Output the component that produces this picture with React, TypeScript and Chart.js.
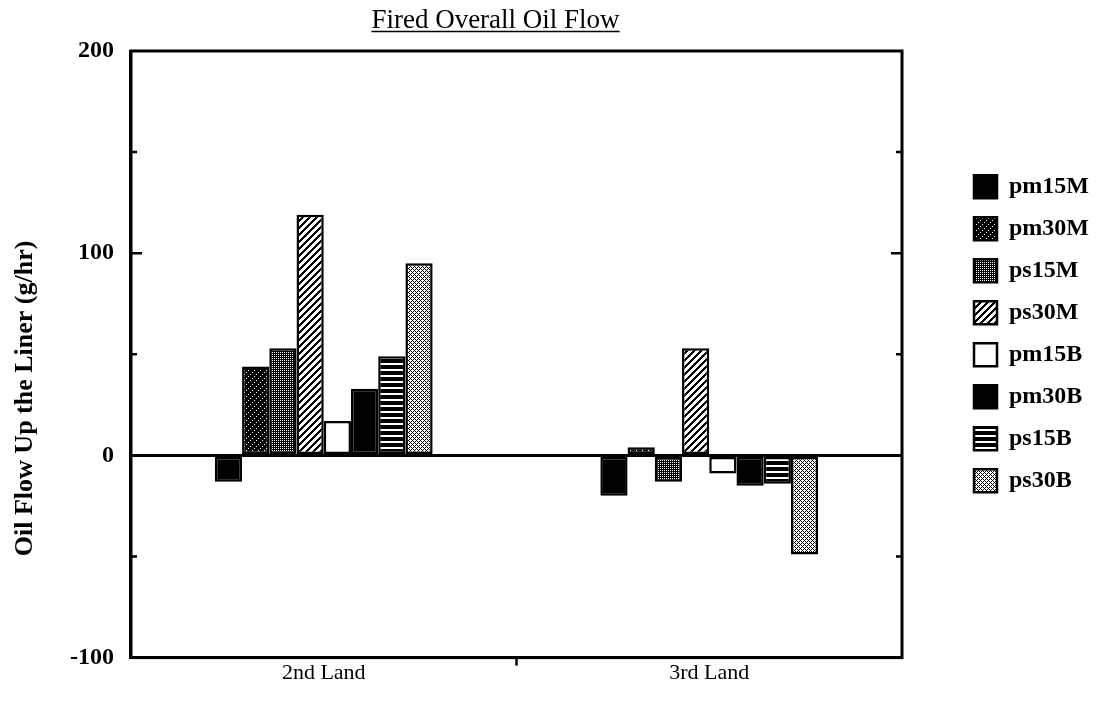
import React, { useEffect, useRef } from "react";
import { Chart, registerables } from "chart.js";

Chart.register(...registerables);

const FONT = "'Liberation Serif', 'Times New Roman', serif";

const categories = ["2nd Land", "3rd Land"];
const seriesNames = ["pm15M", "pm30M", "ps15M", "ps30M", "pm15B", "pm30B", "ps15B", "ps30B"];
const pm15M = [-13, -20];
const pm30M = [44, 4];
const ps15M = [53, -13];
const ps30M = [119, 53];
const pm15B = [17, -9];
const pm30B = [33, -15];
const ps15B = [49, -14];
const ps30B = [95, -49];
const yTickValues = [-100, 0, 100, 200];
const chartTitle = "Fired Overall Oil Flow";
const yTitle = "Oil Flow Up the Liner (g/hr)";

type PixelFn = (x: number, y: number) => boolean;

function makePattern(size: number, isBlack: PixelFn): CanvasPattern | string {
  const c = document.createElement("canvas");
  c.width = size;
  c.height = size;
  const g = c.getContext("2d");
  if (!g) return "#888";
  const img = g.createImageData(size, size);
  for (let y = 0; y < size; y++) {
    for (let x = 0; x < size; x++) {
      const i = (y * size + x) * 4;
      const v = isBlack(x, y) ? 0 : 255;
      img.data[i] = v;
      img.data[i + 1] = v;
      img.data[i + 2] = v;
      img.data[i + 3] = 255;
    }
  }
  g.putImageData(img, 0, 0);
  const host = document.createElement("canvas").getContext("2d");
  const p = host ? host.createPattern(c, "repeat") : null;
  return p || "#888";
}

const framePlugin = {
  id: "frame",
  afterDraw(chart: any) {
    const { ctx, chartArea: a, scales } = chart;
    const y = scales.y;
    const x = scales.x;
    ctx.save();
    ctx.strokeStyle = "#000";
    ctx.lineWidth = 3;
    ctx.strokeRect(a.left, a.top, a.right - a.left, a.bottom - a.top);
    ctx.lineWidth = 2.5;
    for (let v = y.min + 50; v < y.max; v += 50) {
      if (v === 0) continue;
      const len = v % 100 === 0 ? 11 : 6;
      const py = y.getPixelForValue(v);
      ctx.beginPath();
      ctx.moveTo(a.left, py);
      ctx.lineTo(a.left + len, py);
      ctx.moveTo(a.right, py);
      ctx.lineTo(a.right - len, py);
      ctx.stroke();
    }
    const mx = (x.getPixelForValue(0) + x.getPixelForValue(1)) / 2;
    ctx.beginPath();
    ctx.moveTo(mx, a.bottom);
    ctx.lineTo(mx, a.bottom + 8);
    ctx.stroke();
    // chart title, underlined
    ctx.font = `27px ${FONT}`;
    ctx.fillStyle = "#000";
    ctx.textAlign = "center";
    ctx.textBaseline = "alphabetic";
    const tx = (a.left + a.right) / 2 - 21;
    const ty = 28;
    ctx.fillText(chartTitle, tx, ty);
    const w = ctx.measureText(chartTitle).width;
    ctx.lineWidth = 1.5;
    ctx.beginPath();
    ctx.moveTo(tx - w / 2, ty + 3.5);
    ctx.lineTo(tx + w / 2, ty + 3.5);
    ctx.stroke();
    // y-axis title
    ctx.save();
    ctx.translate(25, y.getPixelForValue(0) - 57);
    ctx.rotate(-Math.PI / 2);
    ctx.font = `bold 26px ${FONT}`;
    ctx.textAlign = "center";
    ctx.textBaseline = "middle";
    ctx.fillText(yTitle, 0, 0);
    ctx.restore();
    ctx.restore();
  },
};

export default function App() {
  const ref = useRef<HTMLCanvasElement | null>(null);
  useEffect(() => {
    if (!ref.current) return;
    const fills: (CanvasPattern | string)[] = [
      "#000",
      makePattern(6, (x, y) => !((x + y) % 6 === 0 && x % 2 === 0)),
      makePattern(2, (x, y) => !(x % 2 === 0 && y % 2 === 0)),
      makePattern(7, (x, y) => (x + y) % 7 < 3),
      "#fff",
      "#000",
      makePattern(6, (x, y) => !(y % 6 === 3 || y % 6 === 4)),
      makePattern(4, (x, y) => (x + y) % 4 === 0 || (x - y + 8) % 4 === 0),
    ];
    const values = [pm15M, pm30M, ps15M, ps30M, pm15B, pm30B, ps15B, ps30B];
    const datasets = seriesNames.map((name, i) => ({
      label: name,
      data: values[i],
      backgroundColor: fills[i],
      borderColor: "#000",
      borderWidth: 2.5,
      borderSkipped: false,
      barPercentage: 1.0,
      categoryPercentage: 0.565,
    }));
    const chart = new Chart(ref.current, {
      type: "bar",
      data: { labels: categories, datasets },
      plugins: [framePlugin],
      options: {
        animation: false,
        responsive: false,
        maintainAspectRatio: false,
        layout: { padding: { top: 51, left: 53, right: 16, bottom: 14 } },
        plugins: {
          title: { display: false },
          tooltip: { enabled: false },
          legend: {
            display: true,
            position: "right",
            align: "start",
            title: {
              display: true,
              text: " ",
              font: { size: 10, lineHeight: 1 },
              padding: { top: 95.7, bottom: 0 },
            },
            labels: {
              boxWidth: 23,
              boxHeight: 23,
              padding: 18,
              color: "#000",
              font: { family: FONT, size: 24, weight: "bold" },
            },
          },
        },
        scales: {
          x: {
            grid: { display: false, drawTicks: false },
            border: { display: true, color: "#000", width: 3 },
            ticks: { color: "#000", padding: 2, font: { family: FONT, size: 22 } },
          },
          y: {
            min: -100,
            max: 200,
            afterBuildTicks: (s: any) => {
              s.ticks = yTickValues.map((v) => ({ value: v }));
            },
            grid: {
              drawTicks: false,
              lineWidth: 3,
              color: (c: any) => (c.tick && c.tick.value === 0 ? "#000" : "rgba(0,0,0,0)"),
            },
            border: { display: true, color: "#000", width: 3 },
            ticks: {
              color: "#000",
              padding: 17,
              font: { family: FONT, size: 24, weight: "bold" },
            },
            title: { display: false },
          },
          yR: {
            position: "right",
            min: -100,
            max: 200,
            ticks: { display: false },
            grid: { display: false, drawTicks: false },
            border: { display: false },
            afterFit: (s: any) => {
              s.width = 54;
            },
          },
        },
      } as any,
    });
    return () => chart.destroy();
  }, []);
  return (
    <div style={{ position: "fixed", left: 0, top: 0, width: 1115, height: 702, background: "#fff" }}>
      <canvas ref={ref} width={1115} height={702} />
    </div>
  );
}
